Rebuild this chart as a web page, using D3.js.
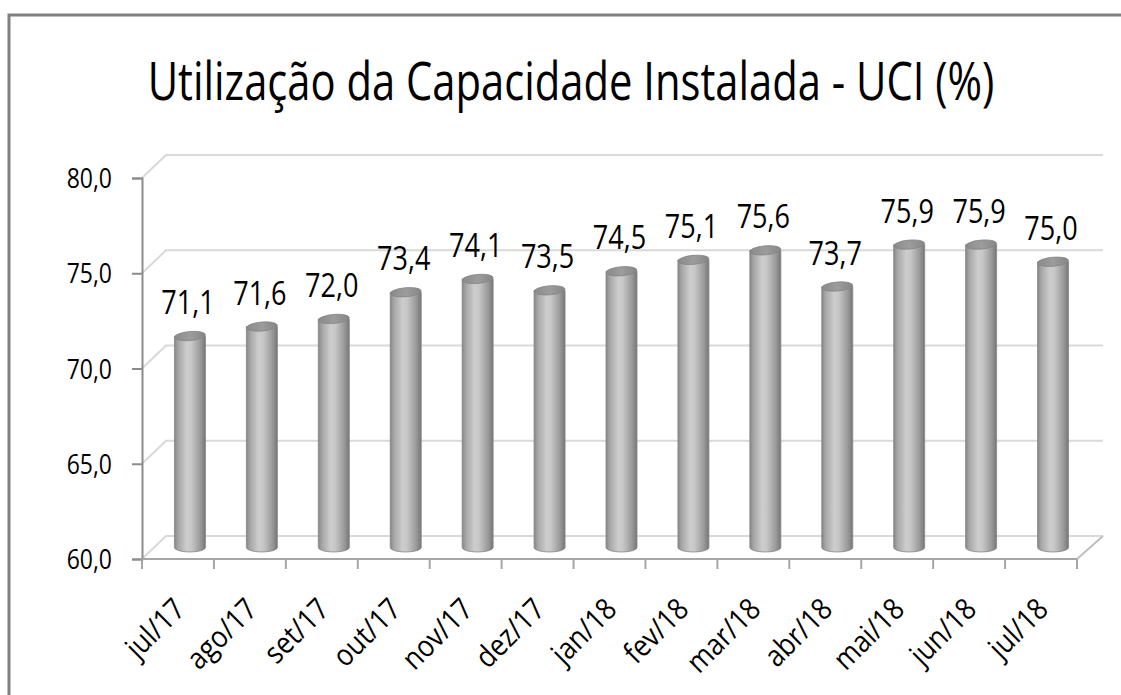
<!DOCTYPE html>
<html>
<head>
<meta charset="utf-8">
<script src="https://cdn.jsdelivr.net/npm/d3@7"></script>
<style>
  html, body { margin: 0; padding: 0; background: #fff; }
  text { font-family: "Open Sans", sans-serif; fill: #000; }
</style>
</head>
<body>
<div id="chart"></div>
<script>
// dados
const categorias = ["jul/17", "ago/17", "set/17", "out/17", "nov/17", "dez/17", "jan/18",
                    "fev/18", "mar/18", "abr/18", "mai/18", "jun/18", "jul/18"];
const valores = [71.1, 71.6, 72.0, 73.4, 74.1, 73.5, 74.5, 75.1, 75.6, 73.7, 75.9, 75.9, 75.0];
const ticksY = [60, 65, 70, 75, 80];
const titulo = "Utilização da Capacidade Instalada - UCI (%)";

const W = 1121, H = 695;
const SX = 0.82; // compressao horizontal (imitar fonte estreita)
const fmt = v => d3.format(".1f")(v).replace(".", ",");

const svg = d3.select("#chart").append("svg")
    .attr("width", W).attr("height", H);

// moldura
svg.append("rect")
    .attr("x", 9).attr("y", 15)
    .attr("width", W + 20).attr("height", H + 20)
    .attr("fill", "none").attr("stroke", "#808080").attr("stroke-width", 3);

// titulo
const tit = svg.append("text")
    .attr("text-anchor", "middle")
    .style("font-size", "53px")
    .text(titulo);
const largura = tit.node().getComputedTextLength();
tit.attr("transform", `translate(571,100) scale(${847 / largura},1)`);

// area do grafico e profundidade 3D
const x0 = 142, x1 = 1077;
const depthX = 24, depthY = 23;

const x = d3.scaleBand().domain(categorias).range([x0, x1]).padding(0);
const y = d3.scaleLinear().domain([60, 80]).range([559, 178]);

const grid = svg.append("g");

// linhas de grade na parede de fundo + diagonais da parede lateral
ticksY.forEach(t => {
    grid.append("line")
        .attr("x1", x0 + depthX - 1).attr("x2", x1 + depthX + 2)
        .attr("y1", y(t) - depthY).attr("y2", y(t) - depthY)
        .attr("stroke", "#d9d9d9").attr("stroke-width", 2);
    grid.append("line")
        .attr("x1", x0).attr("y1", y(t))
        .attr("x2", x0 + depthX).attr("y2", y(t) - depthY)
        .attr("stroke", "#d9d9d9").attr("stroke-width", 2);
});

// piso: lado direito
grid.append("line")
    .attr("x1", x1).attr("y1", y(60))
    .attr("x2", x1 + depthX + 2).attr("y2", y(60) - depthY)
    .attr("stroke", "#bfbfbf").attr("stroke-width", 2);

// eixo Y
const yAxis = svg.append("g")
    .attr("transform", `translate(${x0},0)`)
    .call(d3.axisLeft(y).tickValues(ticksY).tickSize(10).tickFormat(""));
yAxis.select(".domain").attr("stroke", "#8c8c8c").attr("stroke-width", 2);
yAxis.selectAll(".tick line").attr("stroke", "#8c8c8c").attr("stroke-width", 2);

svg.selectAll(".ylabel")
    .data(ticksY)
    .enter().append("text")
    .attr("text-anchor", "end")
    .attr("dy", "0.36em")
    .attr("transform", d => `translate(${x0 - 30},${y(d)}) scale(${SX},1)`)
    .style("font-size", "28px")
    .text(fmt);

// eixo X (frente do piso)
const xTicks = categorias.map(c => x(c)).concat([x1]);
svg.append("line")
    .attr("x1", x0).attr("x2", x1)
    .attr("y1", y(60)).attr("y2", y(60))
    .attr("stroke", "#a6a6a6").attr("stroke-width", 2);
svg.selectAll(".xtick")
    .data(xTicks)
    .enter().append("line")
    .attr("x1", d => d).attr("x2", d => d)
    .attr("y1", y(60)).attr("y2", y(60) + 10)
    .attr("stroke", "#a6a6a6").attr("stroke-width", 2);

svg.selectAll(".xlabel")
    .data(categorias)
    .enter().append("text")
    .attr("text-anchor", "end")
    .attr("transform", d => `translate(${x(d) + x.bandwidth() / 2 + 9},${y(60) + 52}) rotate(-45) scale(0.88,1)`)
    .style("font-size", "30px")
    .text(d => d);

// cilindros
const defs = svg.append("defs");
const grad = defs.append("linearGradient").attr("id", "corpo")
    .attr("x1", "0%").attr("x2", "100%").attr("y1", "0%").attr("y2", "0%");
[[0, "#868686"], [0.12, "#a6a6a6"], [0.4, "#cdcdcd"], [0.55, "#c6c6c6"], [0.85, "#979797"], [1, "#767676"]]
    .forEach(([o, c]) => grad.append("stop").attr("offset", o).attr("stop-color", c));
const gradTopo = defs.append("linearGradient").attr("id", "topo")
    .attr("x1", "0%").attr("x2", "100%").attr("y1", "0%").attr("y2", "0%");
[[0, "#8a8a8a"], [0.5, "#9c9c9c"], [1, "#868686"]]
    .forEach(([o, c]) => gradTopo.append("stop").attr("offset", o).attr("stop-color", c));

const rx = 15.5, ry = 4.5;
const cx = d => x(d.c) + x.bandwidth() / 2 + depthX / 2;
const base = y(60) - depthY / 2;
const topo = d => y(d.v) - depthY / 2;
const dados = categorias.map((c, i) => ({ c: c, v: valores[i] }));

const cil = svg.append("g").selectAll("g")
    .data(dados)
    .enter().append("g");

cil.append("path")
    .attr("d", d => `M${cx(d) - rx},${topo(d)} L${cx(d) - rx},${base} ` +
        `A${rx},${ry} 0 0 0 ${cx(d) + rx},${base} L${cx(d) + rx},${topo(d)} Z`)
    .attr("fill", "url(#corpo)")
    .attr("stroke", "#858585").attr("stroke-width", 0.8);

cil.append("ellipse")
    .attr("cx", d => cx(d)).attr("cy", d => topo(d))
    .attr("rx", rx).attr("ry", ry)
    .attr("transform", d => `rotate(-5,${cx(d)},${topo(d)})`)
    .attr("fill", "url(#topo)")
    .attr("stroke", "#858585").attr("stroke-width", 0.8);

// rotulos de dados
cil.append("text")
    .attr("text-anchor", "middle")
    .attr("transform", d => `translate(${cx(d) - 2},${topo(d) - 22}) scale(${SX},1)`)
    .style("font-size", "33px")
    .text(d => fmt(d.v));
</script>
</body>
</html>
